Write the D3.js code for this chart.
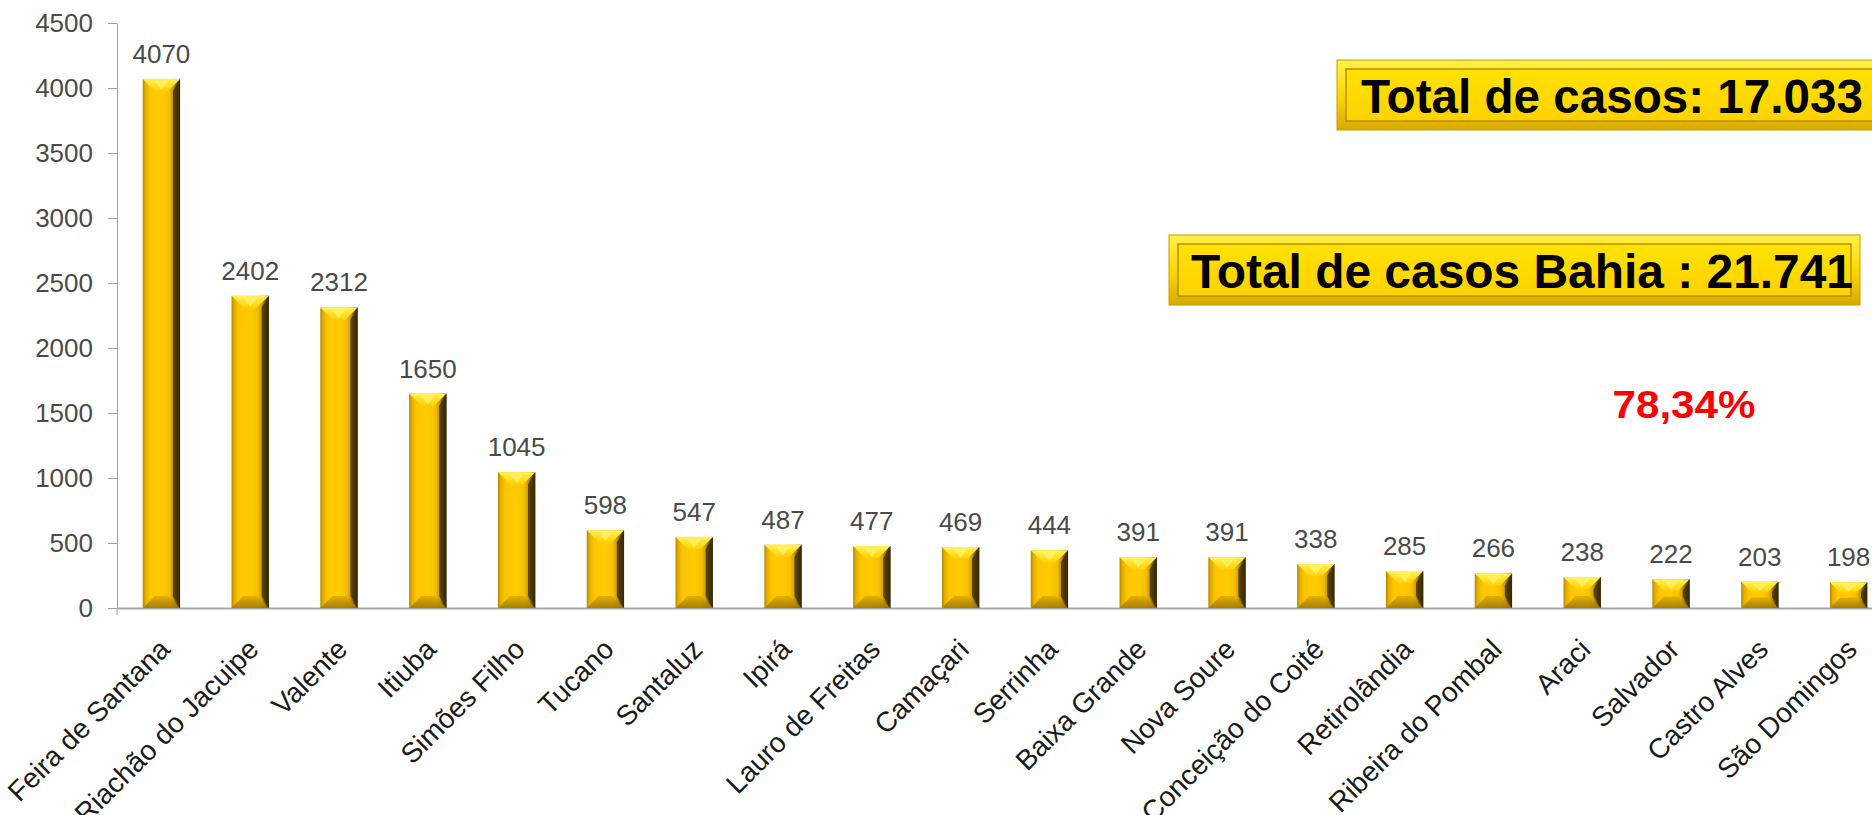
<!DOCTYPE html>
<html>
<head>
<meta charset="utf-8">
<script src="https://cdn.jsdelivr.net/npm/d3@7"></script>
<style>
body { margin: 0; background: #fff; }
svg { display: block; }
text { font-family: "Liberation Sans", Arial, sans-serif; }
</style>
</head>
<body>
<svg id="chart" width="1872" height="815"></svg>
<script>
// data
var cities = ["Feira de Santana", "Riachão do Jacuipe", "Valente", "Itiuba", "Simões Filho",
	"Tucano", "Santaluz", "Ipirá", "Lauro de Freitas", "Camaçari", "Serrinha", "Baixa Grande",
	"Nova Soure", "Conceição do Coité", "Retirolândia", "Ribeira do Pombal", "Araci",
	"Salvador", "Castro Alves", "São Domingos"];
var cases = [4070, 2402, 2312, 1650, 1045, 598, 547, 487, 477, 469, 444, 391, 391, 338, 285, 266, 238, 222, 203, 198];
var yTicks = [0, 500, 1000, 1500, 2000, 2500, 3000, 3500, 4000, 4500];
var totalLabels = ["Total de casos: 17.033", "Total de casos Bahia : 21.741"];
var percentLabel = "78,34%";

var svg = d3.select("#chart");

var axis_x = 117, base_y = 608, top_y = 23, step = 88.8;

var x = d3.scaleBand()
	.domain(cities)
	.range([axis_x, axis_x + cities.length * step])
	.paddingInner(0.58)
	.paddingOuter(0.29);
var y = d3.scaleLinear().domain([0, 4500]).range([base_y, top_y]);

/* gradients */
var defs = svg.append("defs");
function addGrad(id, vertical, stops) {
	var gr = defs.append("linearGradient").attr("id", id)
		.attr("x1", 0).attr("y1", 0)
		.attr("x2", vertical ? 0 : 1).attr("y2", vertical ? 1 : 0);
	stops.forEach(function(s) {
		gr.append("stop").attr("offset", s[0]).attr("stop-color", s[1]);
	});
}
addGrad("barFace", false, [[0, "#b08600"], [0.07, "#e2ae00"], [0.2, "#ffc600"], [0.5, "#ffcc00"],
	[0.7, "#f6c000"], [0.8, "#cf9f00"], [0.9, "#7a5c00"], [1, "#2a1f00"]]);
addGrad("barTop", true, [[0, "#fff35a"], [1, "#ffd000"]]);
addGrad("barBottom", true, [[0, "#e0ac00"], [1, "#a07800"]]);
addGrad("boxOuter", true, [[0, "#fff24a"], [0.5, "#ffd800"], [1, "#d8a900"]]);
addGrad("boxInner", true, [[0, "#ffe200"], [1, "#ffd200"]]);

/* y axis */
var yAxis = svg.append("g")
	.attr("transform", `translate(${axis_x}, 0)`)
	.call(d3.axisLeft(y).tickValues(yTicks).tickFormat(d3.format("d"))
		.tickSizeInner(9).tickSizeOuter(0).tickPadding(15));
yAxis.select(".domain").style("stroke", "#a0a0a0");
yAxis.selectAll(".tick line").style("stroke", "#a0a0a0");
yAxis.selectAll(".tick text")
	.style("font-size", "26px")
	.style("font-family", '"Liberation Sans", Arial, sans-serif')
	.style("fill", "#4a4a4a");

/* x axis */
var xAxis = svg.append("g")
	.attr("transform", `translate(0, ${base_y})`)
	.call(d3.axisBottom(x).tickSizeInner(0).tickSizeOuter(0));
xAxis.select(".domain").style("stroke", "#a8a8a8").style("stroke-width", 2);
xAxis.selectAll(".tick text")
	.attr("x", 0).attr("y", 0).attr("dy", 0)
	.attr("transform", "translate(10, 43) rotate(-45)")
	.style("text-anchor", "end")
	.style("font-size", "28px")
	.style("font-family", '"Liberation Sans", Arial, sans-serif')
	.style("fill", "#1a1a1a");

svg.append("line")
	.attr("x1", axis_x).attr("x2", axis_x)
	.attr("y1", base_y).attr("y2", base_y + 7)
	.style("stroke", "#a0a0a0");

/* bars */
for (let i = 0; i < cities.length; i++) {
	var x0 = x(cities[i]), w = x.bandwidth(), x1 = x0 + w;
	var y0 = y(cases[i]), y1 = y(0), h = y1 - y0;
	var bv = Math.min(12, h / 2.5);
	var bar = svg.append("g").attr("class", "bar");

	bar.append("rect")
		.attr("x", x0).attr("y", y0)
		.attr("width", w).attr("height", h)
		.style("fill", "url(#barFace)");

	bar.append("polygon")
		.attr("points", [[x0, y0], [x1, y0], [x1 - bv, y0 + bv], [x0 + bv, y0 + bv]].join(" "))
		.style("fill", "url(#barTop)");

	bar.append("polygon")
		.attr("points", [[x0 + bv, y0 + 2], [x1 - bv, y0 + 2], [x0 + w / 2, y0 + bv * 0.9]].join(" "))
		.style("fill", "#fff36a")
		.style("opacity", 0.8);

	bar.append("polygon")
		.attr("points", [[x0, y1], [x1, y1], [x1 - bv, y1 - bv], [x0 + bv, y1 - bv]].join(" "))
		.style("fill", "url(#barBottom)")
		.style("opacity", 0.9);

	bar.append("polygon")
		.attr("points", [[x1, y0], [x1, y1], [x1 - bv * 0.6, y1 - bv], [x1 - bv * 0.6, y0 + bv]].join(" "))
		.style("fill", "#3a2b00")
		.style("opacity", 0.75);

	svg.append("text")
		.attr("x", x0 + w / 2)
		.attr("y", y0 - 16)
		.style("text-anchor", "middle")
		.style("font-size", "26px")
		.style("fill", "#4a4a4a")
		.text(cases[i]);
}

/* total boxes */
var boxes = [
	{x: 1337, y: 60, w: 600, tx: 1361, tl: 502},
	{x: 1169, y: 235, w: 691, tx: 1191, tl: 662}
];
boxes.forEach(function(b, i) {
	var bh = 70, ins = 9;
	svg.append("rect")
		.attr("x", b.x).attr("y", b.y).attr("width", b.w).attr("height", bh)
		.style("fill", "url(#boxOuter)")
		.style("stroke", "#c89c00");
	svg.append("rect")
		.attr("x", b.x + ins).attr("y", b.y + ins)
		.attr("width", b.w - 2 * ins).attr("height", bh - 2 * ins)
		.style("fill", "url(#boxInner)")
		.style("stroke", "#b88f00")
		.style("stroke-width", 1.5);
	svg.append("text")
		.attr("x", b.tx)
		.attr("y", b.y + 53)
		.attr("textLength", b.tl)
		.attr("lengthAdjust", "spacingAndGlyphs")
		.style("font-size", "48px")
		.style("font-weight", "bold")
		.style("fill", "#000")
		.text(totalLabels[i]);
});

svg.append("text")
	.attr("x", 1684)
	.attr("y", 418)
	.attr("textLength", 143)
	.attr("lengthAdjust", "spacingAndGlyphs")
	.style("text-anchor", "middle")
	.style("font-size", "38px")
	.style("font-weight", "bold")
	.style("fill", "#ff0000")
	.text(percentLabel);
</script>
</body>
</html>
